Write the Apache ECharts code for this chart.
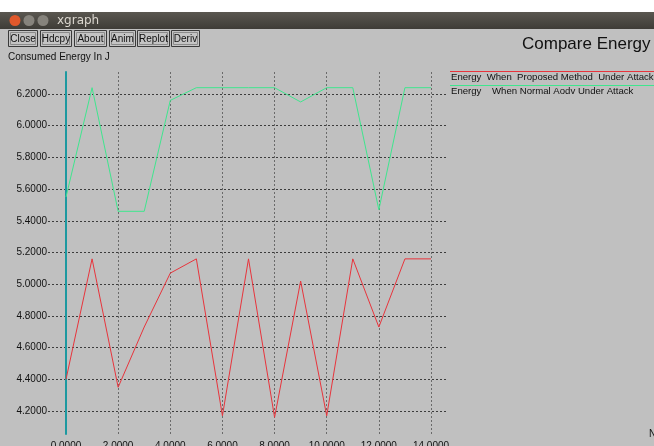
<!DOCTYPE html>
<html>
<head>
<meta charset="utf-8">
<script src="https://cdn.jsdelivr.net/npm/echarts@6/dist/echarts.min.js"></script>
<style>
  html, body { margin: 0; padding: 0; background: #c0c0c0; }
  #chart { width: 654px; height: 446px; }
</style>
</head>
<body>
<div id="chart"></div>
<script>
// Simulation runs 0..14, consumed energy (J) for two scenarios
const xValues = [0, 1, 2, 3, 4, 5, 6, 7, 8, 9, 10, 11, 12, 13, 14];
const proposedEnergy = [4.40, 5.16, 4.35, 4.73, 5.07, 5.16, 4.17, 5.16, 4.16, 5.02, 4.17, 5.16, 4.73, 5.16, 5.16];
const normalAodvEnergy = [5.55, 6.24, 5.46, 5.46, 6.16, 6.24, 6.24, 6.24, 6.24, 6.15, 6.24, 6.24, 5.47, 6.24, 6.24];

const seriesNames = [
  'Energy  When  Proposed Method  Under Attack',
  'Energy    When Normal Aodv Under Attack'
];
const buttonLabels = ['Close', 'Hdcpy', 'About', 'Anim', 'Replot', 'Deriv'];

const FONT = '"Liberation Sans", Arial, sans-serif';
const RED = '#e8343c';
const GREEN = '#3fe68e';
const TEAL = '#1d99a0';

const chart = echarts.init(document.getElementById('chart'), null, { renderer: 'canvas' });

// Window chrome: title bar and button row
const buttonBoxes = [[8, 29], [40, 31], [74, 32], [109, 26], [137, 32], [171, 28]];
const chrome = [
  { type: 'rect', shape: { x: 0, y: 0, width: 654, height: 12 }, style: { fill: '#ffffff' }, silent: true },
  { type: 'rect', shape: { x: 0, y: 12, width: 654, height: 17 },
    style: { fill: new echarts.graphic.LinearGradient(0, 0, 0, 1, [
      { offset: 0, color: '#5a5750' }, { offset: 1, color: '#3e3c37' }]) }, silent: true },
  { type: 'circle', shape: { cx: 15, cy: 20.5, r: 5.5 }, style: { fill: '#e0582b' }, silent: true },
  { type: 'circle', shape: { cx: 29, cy: 20.5, r: 5.5 }, style: { fill: '#86837c' }, silent: true },
  { type: 'circle', shape: { cx: 43, cy: 20.5, r: 5.5 }, style: { fill: '#86837c' }, silent: true },
  { type: 'text', x: 57, y: 20.5, style: { text: 'xgraph', fill: '#dcd8d0', font: '12px "DejaVu Sans", sans-serif',
    verticalAlign: 'middle' }, silent: true }
];
buttonLabels.forEach((label, i) => {
  const [bx, bw] = buttonBoxes[i];
  chrome.push({ type: 'rect', shape: { x: bx + 0.5, y: 30.5, width: bw, height: 16 },
    style: { fill: '#c4c4c4', stroke: '#3a3a3a', lineWidth: 1 }, silent: true });
  chrome.push({ type: 'rect', shape: { x: bx + 2.5, y: 32.5, width: bw - 4, height: 12 },
    style: { fill: 'none', stroke: '#8a8a8a', lineWidth: 1 }, silent: true });
  chrome.push({ type: 'text', x: bx + bw / 2 + 0.5, y: 39, style: { text: label, fill: '#111',
    font: '10px ' + FONT, align: 'center', verticalAlign: 'middle' }, silent: true });
});

// Axis caption, title, legend
const labels = [
  { type: 'text', x: 8, y: 57, style: { text: 'Consumed Energy In J', fill: '#111', font: '10px ' + FONT,
    verticalAlign: 'middle' }, silent: true },
  { type: 'text', x: 522, y: 44, style: { text: 'Compare Energy', fill: '#111', font: '17px ' + FONT,
    verticalAlign: 'middle' }, silent: true },
  { type: 'line', shape: { x1: 450, y1: 71.5, x2: 654, y2: 71.5 }, style: { stroke: RED, lineWidth: 1 }, silent: true },
  { type: 'text', x: 451, y: 77, style: { text: seriesNames[0], fill: '#111', font: '9.6px ' + FONT,
    verticalAlign: 'middle' }, silent: true },
  { type: 'line', shape: { x1: 450, y1: 85.5, x2: 654, y2: 85.5 }, style: { stroke: GREEN, lineWidth: 1 }, silent: true },
  { type: 'text', x: 451, y: 91, style: { text: seriesNames[1], fill: '#111', font: '9.6px ' + FONT,
    verticalAlign: 'middle' }, silent: true },
  { type: 'text', x: 649, y: 434, style: { text: 'Nodes', fill: '#111', font: '10px ' + FONT,
    verticalAlign: 'middle' }, silent: true }
];

const dash = [2, 2];

chart.setOption({
  backgroundColor: '#c0c0c0',
  animation: false,
  graphic: chrome.concat(labels),
  grid: [
    // data area
    { left: 66, width: 365, top: 62.33, height: 380.4, outerBoundsMode: 'none', containLabel: false },
    // vertical grid lines and x labels
    { left: 66, width: 365, top: 72, height: 362, outerBoundsMode: 'none', containLabel: false },
    // horizontal grid lines and y labels
    { left: 48, width: 400, top: 62.33, height: 380.4, outerBoundsMode: 'none', containLabel: false }
  ],
  xAxis: [
    { gridIndex: 0, type: 'value', min: 0, max: 14, show: false },
    { gridIndex: 1, type: 'value', min: 0, max: 14, interval: 2,
      axisLine: { show: false }, axisTick: { show: false },
      axisLabel: { margin: 7, color: '#111', fontFamily: FONT, fontSize: 10, formatter: v => v.toFixed(4) },
      splitLine: { show: true, lineStyle: { color: '#6a6a6a', type: dash, width: 1 } } },
    { gridIndex: 2, type: 'value', min: 0, max: 1, show: false }
  ],
  yAxis: [
    { gridIndex: 0, type: 'value', min: 4.0, max: 6.4, show: false },
    { gridIndex: 1, type: 'value', min: 0, max: 1, position: 'left',
      axisLine: { show: true, onZero: false, lineStyle: { color: TEAL, width: 2 } },
      axisTick: { show: false }, axisLabel: { show: false }, splitLine: { show: false } },
    { gridIndex: 2, type: 'value', min: 4.0, max: 6.4, interval: 0.2,
      axisLine: { show: false }, axisTick: { show: false },
      axisLabel: { margin: 1, color: '#111', fontFamily: FONT, fontSize: 10,
        showMinLabel: false, showMaxLabel: false, formatter: v => v.toFixed(4) },
      splitLine: { show: true, showMinLine: false, showMaxLine: false,
        lineStyle: { color: '#3c3c3c', type: dash, width: 1 } } }
  ],
  series: [
    { name: seriesNames[0], type: 'line', xAxisIndex: 0, yAxisIndex: 0,
      data: xValues.map((x, i) => [x, proposedEnergy[i]]),
      showSymbol: false, lineStyle: { color: RED, width: 1 }, z: 5 },
    { name: seriesNames[1], type: 'line', xAxisIndex: 0, yAxisIndex: 0,
      data: xValues.map((x, i) => [x, normalAodvEnergy[i]]),
      showSymbol: false, lineStyle: { color: GREEN, width: 1 }, z: 5 }
  ]
});
</script>
</body>
</html>
